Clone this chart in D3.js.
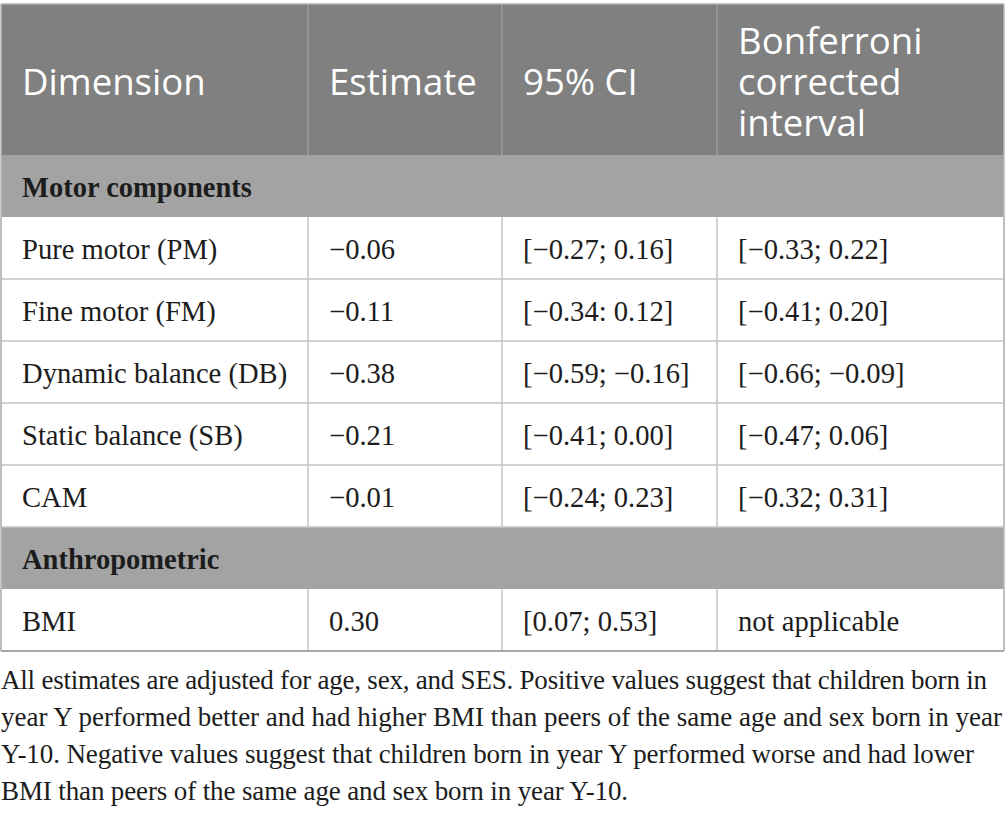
<!DOCTYPE html>
<html>
<head>
<meta charset="utf-8">
<script src="https://cdn.jsdelivr.net/npm/d3@7"></script>
<style>
  body { margin: 0; background: #fff; }
  svg { display: block; }
</style>
</head>
<body>
<svg id="table"></svg>
<script>
// table content
const headers = [["Dimension"], ["Estimate"], ["95% CI"], ["Bonferroni", "corrected", "interval"]];
const sections = ["Motor components", "Anthropometric"];
const dimensions = ["Pure motor (PM)", "Fine motor (FM)", "Dynamic balance (DB)", "Static balance (SB)", "CAM", "BMI"];
const dimSection = [0, 0, 0, 0, 0, 1];
const estimates = ["\u22120.06", "\u22120.11", "\u22120.38", "\u22120.21", "\u22120.01", "0.30"];
const ci95 = ["[\u22120.27; 0.16]", "[\u22120.34: 0.12]", "[\u22120.59; \u22120.16]", "[\u22120.41; 0.00]", "[\u22120.24; 0.23]", "[0.07; 0.53]"];
const bonferroni = ["[\u22120.33; 0.22]", "[\u22120.41; 0.20]", "[\u22120.66; \u22120.09]", "[\u22120.47; 0.06]", "[\u22120.32; 0.31]", "not applicable"];
const footnote = [
  "All estimates are adjusted for age, sex, and SES. Positive values suggest that children born in",
  "year Y performed better and had higher BMI than peers of the same age and sex born in year",
  "Y-10. Negative values suggest that children born in year Y performed worse and had lower",
  "BMI than peers of the same age and sex born in year Y-10."
];
// rendered width of each footnote line in the reference
const footnoteWidths = [986, 1001, 973, 627];

const W = 1005, H = 815;
const svg = d3.select("#table").attr("width", W).attr("height", H);

// build the row list: section rows followed by their data rows
const rows = [];
sections.forEach((s, si) => {
  rows.push({ type: "section", label: s });
  dimensions.forEach((d, i) => {
    if (dimSection[i] === si) rows.push({ type: "data", cells: [d, estimates[i], ci95[i], bonferroni[i]] });
  });
});

const colEdges = [1, 308, 502, 717, 1004];
const tableTop = 4, headerH = 151, rowH = 62;

const x = d3.scaleOrdinal().domain(d3.range(4)).range(colEdges.slice(0, 4));
const y = d3.scaleLinear().domain([0, rows.length]).range([tableTop + headerH, tableTop + headerH + rows.length * rowH]);

const sansFont = "'Open Sans', 'Noto Sans', sans-serif";
const serifFont = "'Liberation Serif', 'Times New Roman', serif";
const pad = 21;
const headLine = 41;

// header
const head = svg.append("g");
head.append("rect")
  .attr("x", colEdges[0]).attr("y", tableTop)
  .attr("width", colEdges[4] - colEdges[0]).attr("height", headerH)
  .attr("fill", "#7f807f");

head.selectAll("line.hsep")
  .data(d3.range(1, 4))
  .join("line")
  .attr("x1", d => x(d)).attr("x2", d => x(d))
  .attr("y1", tableTop).attr("y2", tableTop + headerH)
  .attr("stroke", "#9c9d9c").attr("stroke-width", 1.5);

const headText = head.selectAll("text")
  .data(headers)
  .join("text")
  .attr("x", (d, i) => x(i) + pad)
  .attr("y", d => tableTop + 91 - (d.length - 1) / 2 * headLine)
  .attr("fill", "#fff")
  .attr("font-family", sansFont)
  .attr("font-size", 36.6);

headText.selectAll("tspan")
  .data(d => d)
  .join("tspan")
  .attr("x", function () { return d3.select(this.parentNode).attr("x"); })
  .attr("dy", (d, i) => i === 0 ? 0 : headLine)
  .text(d => d);

// body rows
const body = svg.append("g");
const rowG = body.selectAll("g.row")
  .data(rows)
  .join("g")
  .attr("class", "row")
  .attr("transform", (d, i) => `translate(0,${y(i)})`);

rowG.append("rect")
  .attr("x", colEdges[0]).attr("y", 0)
  .attr("width", colEdges[4] - colEdges[0]).attr("height", rowH)
  .attr("fill", d => d.type === "section" ? "#a2a3a2" : "#fff");

rowG.filter(d => d.type === "section")
  .append("text")
  .attr("x", x(0) + pad).attr("y", 42)
  .attr("font-family", serifFont)
  .attr("font-weight", "bold")
  .attr("font-size", 28.5)
  .attr("fill", "#1c1c1c")
  .text(d => d.label);

const dataRows = rowG.filter(d => d.type === "data");

dataRows.selectAll("text")
  .data(d => d.cells)
  .join("text")
  .attr("x", (d, i) => x(i) + pad)
  .attr("y", 42)
  .attr("font-family", serifFont)
  .attr("font-size", 28.6)
  .attr("fill", "#1c1c1c")
  .text(d => d);

dataRows.selectAll("line.vsep")
  .data(d3.range(0, 5))
  .join("line")
  .attr("x1", d => colEdges[d]).attr("x2", d => colEdges[d])
  .attr("y1", 0).attr("y2", rowH)
  .attr("stroke", "#c4c4c4").attr("stroke-width", 1.5);

// horizontal rules below each data row
body.selectAll("line.hrule")
  .data(rows.map((r, i) => i).filter(i => rows[i].type === "data"))
  .join("line")
  .attr("x1", colEdges[0]).attr("x2", colEdges[4])
  .attr("y1", d => y(d + 1)).attr("y2", d => y(d + 1))
  .attr("stroke", "#c4c4c4").attr("stroke-width", 1.5);

// outer edges of the table
svg.append("line")
  .attr("x1", colEdges[0]).attr("x2", colEdges[4])
  .attr("y1", tableTop).attr("y2", tableTop)
  .attr("stroke", "#b0b0b0").attr("stroke-width", 1.5);
svg.append("line")
  .attr("x1", colEdges[0]).attr("x2", colEdges[0])
  .attr("y1", tableTop).attr("y2", y(rows.length))
  .attr("stroke", "#b8b8b8").attr("stroke-width", 1.5);
svg.append("line")
  .attr("x1", colEdges[4]).attr("x2", colEdges[4])
  .attr("y1", tableTop).attr("y2", y(rows.length))
  .attr("stroke", "#b8b8b8").attr("stroke-width", 1.5);
svg.append("line")
  .attr("x1", colEdges[0]).attr("x2", colEdges[4])
  .attr("y1", y(rows.length)).attr("y2", y(rows.length))
  .attr("stroke", "#a8a8a8").attr("stroke-width", 2);

// footnote
svg.append("g").selectAll("text")
  .data(footnote)
  .join("text")
  .attr("x", 1)
  .attr("y", (d, i) => y(rows.length) + 38 + i * 37)
  .attr("font-family", serifFont)
  .attr("font-size", 27)
  .attr("fill", "#1c1c1c")
  .attr("textLength", (d, i) => footnoteWidths[i])
  .attr("lengthAdjust", "spacing")
  .text(d => d);
</script>
</body>
</html>
